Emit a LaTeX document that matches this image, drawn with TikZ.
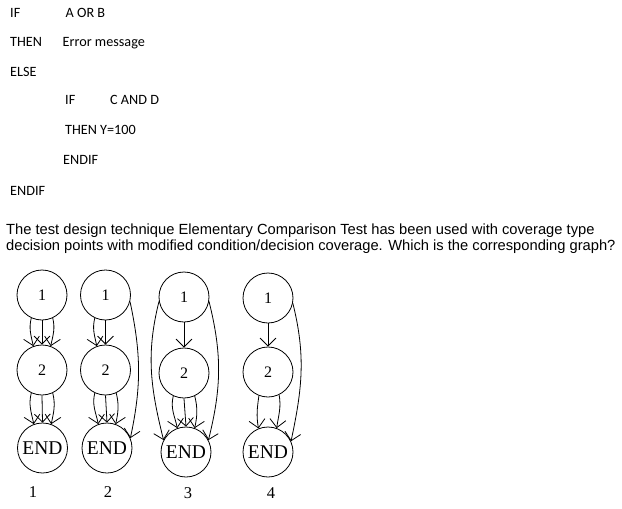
\documentclass[tikz,border=0pt]{standalone}
\usepackage{fontspec}
\setmainfont{Liberation Serif}
\newfontfamily\codefont{Carlito}
\newfontfamily\parafont{Liberation Sans}
\usetikzlibrary{arrows.meta}
\tikzset{
  code/.style={anchor=base west, inner sep=0pt, font=\codefont\fontsize{14.2}{16}\selectfont},
  para/.style={anchor=base west, inner sep=0pt, font=\parafont\fontsize{14.7}{16}\selectfont},
  circ/.style={draw, circle, minimum size=50pt, inner sep=0pt, line width=0.8pt, font=\fontsize{16}{16}\selectfont},
  endc/.style={circ, font=\fontsize{19.5}{19.5}\selectfont},
  arr/.style={line width=0.8pt, -{Straight Barb[length=8pt,width=16pt]}},
  lab/.style={inner sep=0pt, font=\fontsize{16.5}{16.5}\selectfont},
}
\begin{document}
\begin{tikzpicture}[x=1pt,y=1pt]
\useasboundingbox (0,0) rectangle (622,-509);
% code
\node[code] (c1) at (10,-17) {IF};
\node[code] (c2) at (65.5,-17) {A OR B};
\node[code] (c3) at (10,-46) {THEN};
\node[code] (c4) at (62.5,-46) {Error message};
\node[code] (c5) at (10,-76) {ELSE};
\node[code] (c6) at (65,-104) {IF};
\node[code] (c7) at (110,-104) {C AND D};
\node[code] (c8) at (65,-134) {THEN};
\node[code] (c9) at (100,-134) {Y=100};
\node[code] (c10) at (63,-164) {ENDIF};
\node[code] (c11) at (10,-195) {ENDIF};
% paragraph
\node[para] (p1) at (6,-234.3) {The test design technique Elementary Comparison Test has been used with coverage type};
\node[para] (p2) at (6,-250) {decision points with modified condition/decision coverage. Which is the corresponding graph?};
% graph 1
\node[circ] (a1) at (42,-295) {1};
\node[circ] (a2) at (42,-370) {2};
\node[endc] (ae) at (42.5,-448) {END};
\node[lab] (al) at (33,-492) {1};
\draw[arr] (a1.south) -- (a2.north);
\draw[arr] (a1.245) to[out=256,in=102] (a2.110);
\draw[arr] (a1.295) to[out=284,in=78] (a2.70);
\draw[arr] (a2.south) -- (ae.north);
\draw[arr] (a2.245) to[out=256,in=102] (ae.110);
\draw[arr] (a2.295) to[out=284,in=78] (ae.70);
% graph 2
\node[circ] (b1) at (105.5,-295) {1};
\node[circ] (b2) at (105.5,-370) {2};
\node[endc] (be) at (107,-448) {END};
\node[lab] (bl) at (108,-492) {2};
\draw[arr] (b1.south) -- (b2.north);
\draw[arr] (b1.245) to[out=256,in=102] (b2.110);
\draw[arr] (b2.south) -- (be.north);
\draw[arr] (b2.245) to[out=256,in=102] (be.110);
\draw[arr] (b2.295) to[out=284,in=78] (be.70);
\draw[arr] (b1.-15) to[out=-78,in=78] (be.23);
% graph 3
\node[circ] (g1) at (184,-297) {1};
\node[circ] (g2) at (184,-373) {2};
\node[endc] (ge) at (186,-452) {END};
\node[lab] (gl) at (188,-493) {3};
\draw[arr] (g1.south) -- (g2.north);
\draw[arr] (g2.south) -- (ge.north);
\draw[arr] (g2.245) to[out=256,in=102] (ge.110);
\draw[arr] (g2.295) to[out=284,in=78] (ge.70);
\draw[arr] (g1.190) to[out=-104,in=104] (ge.152);
\draw[arr] (g1.-10) to[out=-76,in=76] (ge.28);
% graph 4
\node[circ] (h1) at (268,-298) {1};
\node[circ] (h2) at (268,-372) {2};
\node[endc] (he) at (268,-452) {END};
\node[lab] (hl) at (271,-493) {4};
\draw[arr] (h1.south) -- (h2.north);
\draw[arr] (h2.249) to[out=262,in=100] (he.112);
\draw[arr] (h2.296) to[out=280,in=82] (he.70);
\draw[arr] (h1.-12) to[out=-76,in=78] (he.25);
\end{tikzpicture}
\end{document}
